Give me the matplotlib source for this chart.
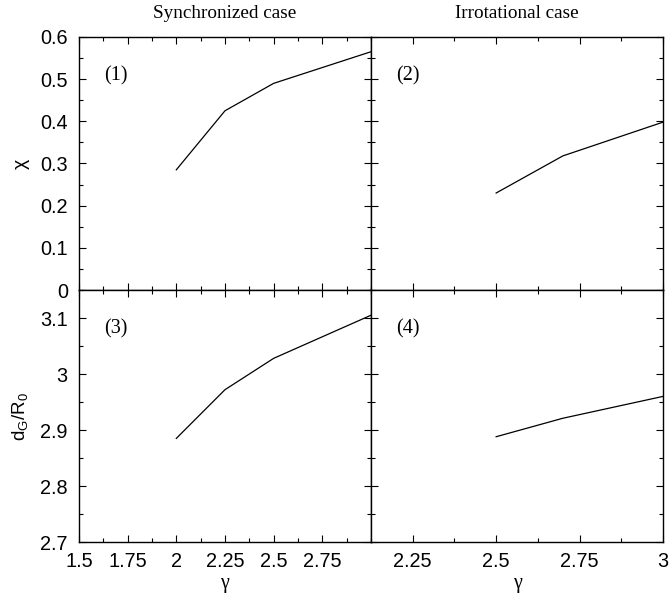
import numpy as np
import matplotlib
matplotlib.use("Agg")
import matplotlib.pyplot as plt
from matplotlib.ticker import MultipleLocator, FixedLocator

# ---- data ----
g_sync = [2.0, 2.25, 2.5, 3.0]
chi_sync = [0.285, 0.425, 0.490, 0.565]
dG_sync = [2.885, 2.972, 3.028, 3.105]

g_irr = [2.5, 2.7, 3.0]
chi_irr = [0.230, 0.318, 0.398]
dG_irr = [2.888, 2.921, 2.960]

col_titles = ["Synchronized case", "Irrotational case"]
panel_tags = ["(1)", "(2)", "(3)", "(4)"]

serif = "Liberation Serif"
sans = "Liberation Sans"

fig = plt.figure(figsize=(6.69, 5.96), dpi=100)

L, M, R = 0.118, 0.5546, 0.991
B, C, T = 0.0906, 0.5134, 0.938

ax1 = fig.add_axes([L, C, M - L, T - C])
ax2 = fig.add_axes([M, C, R - M, T - C])
ax3 = fig.add_axes([L, B, M - L, C - B])
ax4 = fig.add_axes([M, B, R - M, C - B])

ax1.plot(g_sync, chi_sync, color="black", lw=0.9)
ax2.plot(g_irr, chi_irr, color="black", lw=0.9)
ax3.plot(g_sync, dG_sync, color="black", lw=0.9)
ax4.plot(g_irr, dG_irr, color="black", lw=0.9)

for a in (ax1, ax3):
    a.set_xlim(1.5, 3.0)
    a.xaxis.set_major_locator(FixedLocator([1.5, 1.75, 2, 2.25, 2.5, 2.75]))
for a in (ax2, ax4):
    a.set_xlim(2.125, 3.0)
    a.xaxis.set_major_locator(FixedLocator([2.25, 2.5, 2.75, 3.0]))
for a in (ax1, ax2):
    a.set_ylim(0, 0.6)
    a.yaxis.set_major_locator(MultipleLocator(0.1))
for a in (ax3, ax4):
    a.set_ylim(2.7, 3.15)
    a.yaxis.set_major_locator(FixedLocator([2.7, 2.8, 2.9, 3.0, 3.1]))

fmt = plt.FuncFormatter(lambda v, p: "%g" % round(v, 3))
for a in (ax1, ax2, ax3, ax4):
    a.xaxis.set_minor_locator(MultipleLocator(0.125))
    a.yaxis.set_minor_locator(MultipleLocator(0.05))
    a.xaxis.set_major_formatter(fmt)
    a.yaxis.set_major_formatter(fmt)
    a.tick_params(which="both", direction="in", top=True, right=True,
                  labelsize=14.3, width=0.8)
    a.tick_params(which="major", length=5)
    a.tick_params(which="minor", length=3)
    a.tick_params(axis="x", which="major", pad=7)
    a.tick_params(axis="y", which="major", pad=8)
    for s in a.spines.values():
        s.set_linewidth(1.0)
    for lab in a.get_xticklabels() + a.get_yticklabels():
        lab.set_fontfamily(sans)

ax1.tick_params(labelbottom=False)
ax2.tick_params(labelbottom=False, labelleft=False)
ax4.tick_params(labelleft=False)

ax1.set_ylabel("χ", fontsize=14, family=sans, va="center")
ax3.set_ylabel("d$_\\mathregular{G}$/R$_\\mathregular{0}$", fontsize=13.5,
               family=sans, va="center")
ax1.yaxis.set_label_coords(-0.199, 0.5)
ax3.yaxis.set_label_coords(-0.199, 0.5)

ax3.set_xlabel("γ", fontsize=14.5, family=serif)
ax4.set_xlabel("γ", fontsize=14.5, family=serif)
ax3.xaxis.set_label_coords(0.5, -0.163)
ax4.xaxis.set_label_coords(0.5, -0.163)
ax3.xaxis.label.set_va("center")
ax4.xaxis.label.set_va("center")

ax1.set_title(col_titles[0], fontsize=13.8, family=serif, pad=14)
ax2.set_title(col_titles[1], fontsize=13.8, family=serif, pad=14)

for a, t in zip((ax1, ax2, ax3, ax4), panel_tags):
    a.text(0.086, 0.845, t, transform=a.transAxes, fontsize=14.5, family=serif,
           ha="left", va="center")

fig.savefig("out.png", dpi=100)
